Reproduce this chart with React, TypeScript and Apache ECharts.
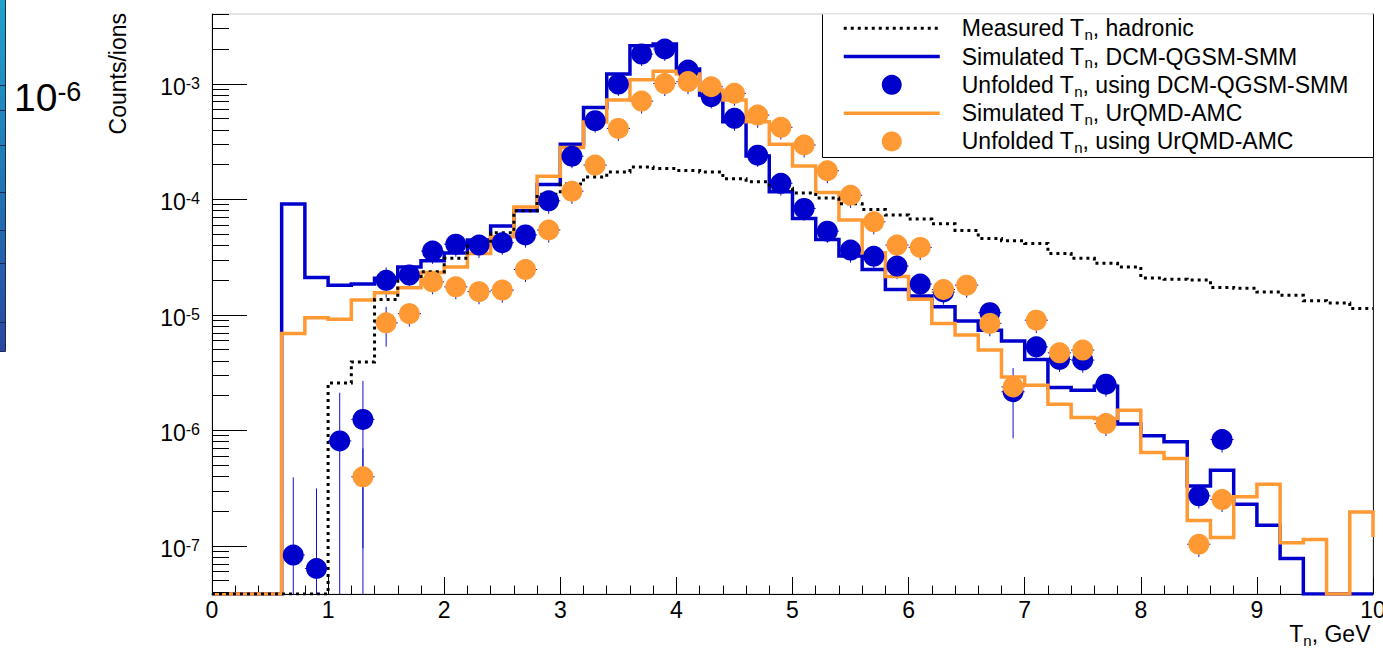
import React, { useEffect, useRef } from 'react';
import * as echarts from 'echarts';

const FONT = '"Liberation Sans", Arial, Helvetica, sans-serif';
const BLUE = '#0000cc';
const ORANGE = '#ff9933';
const BLACK = '#000000';
const ERR_COLOR = '#1010c8';

// axis range (log y)
const Y_MIN = 3.82e-8;
const Y_MAX = 4.0e-3;
const X_MIN = 0;
const X_MAX = 10;
const BIN_HALF = 0.1;

// left edges of the 0.2 GeV bins
const BIN_LEFT = [
  0, 0.2, 0.4, 0.6, 0.8, 1.0, 1.2, 1.4, 1.6, 1.8,
  2.0, 2.2, 2.4, 2.6, 2.8, 3.0, 3.2, 3.4, 3.6, 3.8,
  4.0, 4.2, 4.4, 4.6, 4.8, 5.0, 5.2, 5.4, 5.6, 5.8,
  6.0, 6.2, 6.4, 6.6, 6.8, 7.0, 7.2, 7.4, 7.6, 7.8,
  8.0, 8.2, 8.4, 8.6, 8.8, 9.0, 9.2, 9.4, 9.6, 9.8,
];

// Measured T_n, hadronic
const MEASURED = [
  0, 0, 0, 0, 0, 2.56e-6, 3.9e-6, 1.35e-5, 2.06e-5, 2.35e-5,
  3.07e-5, 4.13e-5, 5.11e-5, 7.94e-5, 1.10e-4, 1.35e-4, 1.55e-4, 1.72e-4, 1.90e-4, 1.84e-4,
  1.77e-4, 1.72e-4, 1.50e-4, 1.41e-4, 1.24e-4, 1.13e-4, 1.02e-4, 9.1e-5, 8.14e-5, 7.27e-5,
  6.71e-5, 6.11e-5, 5.36e-5, 4.57e-5, 4.36e-5, 4.13e-5, 3.39e-5, 3.07e-5, 2.78e-5, 2.59e-5,
  2.08e-5, 2.02e-5, 1.99e-5, 1.72e-5, 1.69e-5, 1.57e-5, 1.47e-5, 1.32e-5, 1.26e-5, 1.13e-5,
];

// Simulated T_n, DCM-QGSM-SMM
const SIM_DCM = [
  0, 0, 0, 9.05e-5, 2.10e-5, 1.80e-5, 1.84e-5, 2.06e-5, 2.58e-5, 2.92e-5,
  3.41e-5, 4.42e-5, 5.84e-5, 7.92e-5, 1.34e-4, 2.98e-4, 6.22e-4, 1.21e-3, 2.12e-3, 2.20e-3,
  1.34e-3, 7.95e-4, 4.67e-4, 2.36e-4, 1.16e-4, 6.81e-5, 4.48e-5, 3.21e-5, 2.46e-5, 1.65e-5,
  1.45e-5, 1.17e-5, 8.83e-6, 7.34e-6, 5.9e-6, 4.09e-6, 2.34e-6, 2.22e-6, 2.4e-6, 1.13e-6,
  8.93e-7, 7.93e-7, 3.29e-7, 4.51e-7, 2.29e-7, 1.50e-7, 7.74e-8, 0, 0, 0,
];

// Simulated T_n, UrQMD-AMC
const SIM_URQMD = [
  0, 0, 0, 6.87e-6, 9.38e-6, 9.14e-6, 1.34e-5, 1.55e-5, 1.71e-5, 2.32e-5,
  2.59e-5, 3.39e-5, 4.72e-5, 8.53e-5, 1.58e-4, 2.79e-4, 4.65e-4, 7.19e-4, 1.08e-3, 1.28e-3,
  1.21e-3, 8.78e-4, 7.19e-4, 4.67e-4, 2.99e-4, 1.93e-4, 1.14e-4, 6.58e-5, 3.44e-5, 2.14e-5,
  1.36e-5, 8.4e-6, 6.65e-6, 4.93e-6, 2.89e-6, 2.45e-6, 1.68e-6, 1.29e-6, 1.26e-6, 1.49e-6,
  6.41e-7, 5.69e-7, 1.65e-7, 1.18e-7, 2.65e-7, 3.40e-7, 1.06e-7, 1.13e-7, 0, 1.96e-7,
];
const SIM_URQMD_OVERFLOW = 1.19e-7;

// Unfolded T_n, using DCM-QGSM-SMM
const UNF_DCM_X = [
  0.7, 0.9, 1.1, 1.3, 1.5, 1.7, 1.9, 2.1, 2.3, 2.5, 2.7, 2.9, 3.1, 3.3, 3.5, 3.7, 3.9, 4.1, 4.3,
  4.5, 4.7, 4.9, 5.1, 5.3, 5.5, 5.7, 5.9, 6.1, 6.3, 6.7, 6.9, 7.1, 7.3, 7.5, 7.7, 8.5, 8.7,
];
const UNF_DCM_Y = [
  8.3e-8, 6.35e-8, 8.07e-7, 1.24e-6, 1.98e-5, 2.2e-5, 3.55e-5, 4.07e-5, 4.0e-5, 4.19e-5,
  4.9e-5, 9.66e-5, 2.35e-4, 4.77e-4, 9.9e-4, 1.8e-3, 1.99e-3, 1.31e-3, 7.7e-4,
  5.0e-4, 2.4e-4, 1.37e-4, 8.3e-5, 5.28e-5, 3.62e-5, 3.2e-5, 2.63e-5, 1.84e-5, 1.57e-5,
  1.04e-5, 2.15e-6, 5.26e-6, 4.09e-6, 4.04e-6, 2.5e-6, 2.7e-7, 8.3e-7,
];
const UNF_DCM_ERR = [
  3.07e-7, 2.5e-7, 1.3e-6, 1.43e-6, 5.8e-6, 5e-6, 8e-6, 9e-6, 9e-6, 9e-6,
  1.1e-5, 2.2e-5, 5e-5, 1.0e-4, 2.1e-4, 3.8e-4, 4.2e-4, 2.8e-4, 1.6e-4,
  1.1e-4, 5e-5, 3e-5, 1.8e-5, 1.1e-5, 8e-6, 7e-6, 6e-6, 4e-6, 3.5e-6,
  2.3e-6, 1.3e-6, 1.2e-6, 9e-7, 9e-7, 5.5e-7, 6e-8, 1.9e-7,
];

// Unfolded T_n, using UrQMD-AMC
const UNF_URQMD_X = [
  1.3, 1.5, 1.7, 1.9, 2.1, 2.3, 2.5, 2.7, 2.9, 3.1, 3.3, 3.5, 3.7, 3.9, 4.1, 4.3, 4.5, 4.7,
  4.9, 5.1, 5.3, 5.5, 5.7, 5.9, 6.1, 6.3, 6.5, 6.7, 6.9, 7.1, 7.3, 7.5, 7.7, 8.5, 8.7,
];
const UNF_URQMD_Y = [
  3.95e-7, 8.49e-6, 1.02e-5, 1.92e-5, 1.74e-5, 1.58e-5, 1.63e-5, 2.46e-5, 5.4e-5, 1.17e-4,
  1.97e-4, 4.09e-4, 7.05e-4, 1.0e-3, 1.04e-3, 9.38e-4, 8.23e-4, 5.34e-4,
  4.18e-4, 2.94e-4, 1.76e-4, 1.08e-4, 6.36e-5, 4.0e-5, 3.82e-5, 1.65e-5, 1.8e-5, 8.4e-6,
  2.37e-6, 8.95e-6, 4.67e-6, 4.93e-6, 1.14e-6, 1.03e-7, 2.51e-7,
];
const UNF_URQMD_ERR = [
  3e-7, 3.2e-6, 2.3e-6, 4.2e-6, 3.8e-6, 3.5e-6, 3.6e-6, 5.4e-6, 1.2e-5, 2.6e-5,
  4.3e-5, 9e-5, 1.55e-4, 2.2e-4, 2.3e-4, 2.1e-4, 1.8e-4, 1.2e-4,
  9e-5, 6.5e-5, 3.9e-5, 2.4e-5, 1.4e-5, 9e-6, 8.5e-6, 3.6e-6, 4e-6, 1.9e-6,
  6e-7, 2e-6, 1e-6, 1.1e-6, 2.5e-7, 2.3e-8, 5.5e-8,
];

// y-axis tick structure (log axis)
const Y_TICK_MANTISSA = [1, 2, 3, 4, 5, 6, 7, 8, 9];
const Y_TICK_DECADES = [-8, -7, -6, -5, -4, -3];

const NAMES = [
  'Measured T_n, hadronic',
  'Simulated T_n, DCM-QGSM-SMM',
  'Unfolded T_n, using DCM-QGSM-SMM',
  'Simulated T_n, UrQMD-AMC',
  'Unfolded T_n, using UrQMD-AMC',
];

const clampLow = (v: number) => (v > Y_MIN ? v : Y_MIN);

function stepData(vals: number[], endVal?: number) {
  const pts: number[][] = BIN_LEFT.map((x, i) => [x, clampLow(vals[i])]);
  const last = endVal !== undefined ? endVal : vals[vals.length - 1];
  pts.push([X_MAX, clampLow(last)]);
  return pts;
}

function pointData(xs: number[], ys: number[]) {
  return xs.map((x, i) => [x, ys[i]]);
}

function errData(xs: number[], ys: number[], es: number[]) {
  return xs.map((x, i) => [x, ys[i], clampLow(ys[i] - es[i]), ys[i] + es[i]]);
}

function yTickData() {
  const out: number[][] = [];
  Y_TICK_DECADES.forEach((d) => {
    Y_TICK_MANTISSA.forEach((m) => {
      const v = m * Math.pow(10, d);
      if (v >= Y_MIN && v <= Y_MAX) out.push([X_MIN, v, m === 1 ? 1 : 0]);
    });
  });
  return out;
}

function legendLabel(name: string) {
  const parts = name.split('T_n');
  return `{g| }{m|${parts[0]}T}{n|n}{m|${parts[1]}}`;
}

function buildOption(): any {
  const errRender = (params: any, api: any) => {
    const x = api.value(0);
    const y = api.value(1);
    const lo = api.value(2);
    const hi = api.value(3);
    const c = api.coord([x, y]);
    const t = api.coord([x, hi]);
    const b = api.coord([x, lo]);
    const l = api.coord([x - BIN_HALF, y]);
    const r = api.coord([x + BIN_HALF, y]);
    const style = { stroke: ERR_COLOR, lineWidth: 1 };
    return {
      type: 'group',
      children: [
        { type: 'line', shape: { x1: c[0], y1: t[1], x2: c[0], y2: b[1] }, style },
        { type: 'line', shape: { x1: l[0], y1: c[1], x2: r[0], y2: c[1] }, style },
      ],
    };
  };

  const tickRender = (params: any, api: any) => {
    const v = api.value(1);
    const major = api.value(2) === 1;
    const p = api.coord([X_MIN, v]);
    const len = major ? 35 : 17;
    const y = Math.round(p[1]) + 0.5;
    return {
      type: 'line',
      shape: { x1: p[0], y1: y, x2: p[0] + len, y2: y },
      style: { stroke: '#000', lineWidth: 1 },
    };
  };

  const subRich = {
    m: { fontSize: 23, lineHeight: 27.5, fontFamily: FONT, color: '#000' },
    n: { fontSize: 15, lineHeight: 10, verticalAlign: 'bottom', fontFamily: FONT, color: '#000' },
    g: { width: 17, fontSize: 23, lineHeight: 27.5 },
  };

  const noSymbol = { opacity: 0, borderWidth: 0 };

  return {
    animation: false,
    textStyle: { fontFamily: FONT },
    grid: {
      left: 212,
      right: 10,
      top: 14,
      bottom: 55,
      show: true,
      borderColor: '#c8c8c8',
      borderWidth: 1,
      outerBoundsMode: 'none',
      containLabel: false,
    },
    xAxis: {
      type: 'value',
      min: X_MIN,
      max: X_MAX,
      interval: 1,
      axisLine: { show: true, onZero: false, lineStyle: { color: '#000', width: 1 } },
      axisTick: { show: true, inside: true, length: 17, lineStyle: { color: '#000', width: 1 } },
      minorTick: { show: true, splitNumber: 5, length: 8.5, lineStyle: { color: '#000', width: 1 } },
      splitLine: { show: false },
      minorSplitLine: { show: false },
      axisLabel: {
        fontSize: 23,
        lineHeight: 23,
        color: '#000',
        fontFamily: FONT,
        margin: 4.5,
        hideOverlap: false,
      },
    },
    yAxis: [
      {
        type: 'log',
        logBase: 10,
        min: Y_MIN,
        max: Y_MAX,
        axisLine: { show: true, onZero: false, lineStyle: { color: '#000', width: 1 } },
        axisTick: { show: false },
        minorTick: { show: false },
        splitLine: { show: false },
        minorSplitLine: { show: false },
        axisLabel: {
          margin: 12,
          color: '#000',
          padding: [6, 0, 0, 0],
          showMinLabel: false,
          showMaxLabel: false,
          hideOverlap: false,
          formatter: (value: number) => {
            const l = Math.log10(value);
            const e = Math.round(l);
            if (Math.abs(l - e) > 1e-6) return '';
            return `{b|10}{s|${e}}`;
          },
          rich: {
            b: { fontSize: 23, lineHeight: 23, fontFamily: FONT, color: '#000' },
            s: { fontSize: 16, lineHeight: 11.8, verticalAlign: 'top', fontFamily: FONT, color: '#000' },
          },
        },
      },
      {
        type: 'value',
        position: 'right',
        axisLine: { show: true, onZero: false, lineStyle: { color: '#222', width: 1 } },
        axisTick: { show: false },
        axisLabel: { show: false },
        splitLine: { show: false },
      },
    ],
    legend: {
      orient: 'vertical',
      left: 842,
      top: 14.5,
      padding: 0,
      itemWidth: 96,
      itemHeight: 20,
      itemGap: 0.8,
      selectedMode: false,
      z: 20,
      formatter: (name: string) => legendLabel(name),
      textStyle: { fontFamily: FONT, fontSize: 23, lineHeight: 27.5, color: '#000', rich: subRich },
      data: [
        { name: NAMES[0], itemStyle: noSymbol, lineStyle: { color: BLACK, width: 3, type: [3, 4] } },
        { name: NAMES[1], itemStyle: noSymbol, lineStyle: { color: BLUE, width: 3.5 } },
        { name: NAMES[2] },
        { name: NAMES[3], itemStyle: noSymbol, lineStyle: { color: ORANGE, width: 3.5 } },
        { name: NAMES[4] },
      ],
    },
    graphic: [
      // legend box (white, with left/bottom/right border)
      {
        type: 'rect',
        z: 10,
        silent: true,
        shape: { x: 822.5, y: 14.5, width: 551, height: 143 },
        style: { fill: '#fff' },
      },
      {
        type: 'polyline',
        z: 11,
        silent: true,
        shape: { points: [[822.5, 14.5], [822.5, 157.5], [1373.5, 157.5], [1373.5, 14.5]] },
        style: { stroke: '#000', lineWidth: 1, fill: null },
      },
      // partial colour palette at the left edge
      {
        type: 'rect',
        silent: true,
        shape: { x: 0, y: 0, width: 5, height: 351 },
        style: {
          fill: new echarts.graphic.LinearGradient(0, 0, 0, 1, [
            { offset: 0, color: '#22a3c9' },
            { offset: 0.5, color: '#1f78b6' },
            { offset: 1, color: '#2b47a0' },
          ]),
        },
      },
      {
        type: 'polyline',
        silent: true,
        shape: { points: [[5.5, 0], [5.5, 351.5], [0, 351.5]] },
        style: { stroke: '#1a2a55', lineWidth: 1, fill: null },
      },
      ...[85, 110, 145, 192, 230, 263, 322].map((yy) => ({
        type: 'line',
        silent: true,
        shape: { x1: 0, y1: yy + 0.5, x2: 5, y2: yy + 0.5 },
        style: { stroke: '#1a2a55', lineWidth: 1 },
      })),
      {
        type: 'text',
        silent: true,
        x: 14,
        y: 78,
        style: {
          text: '{b|10}{s|-6}',
          align: 'left',
          verticalAlign: 'top',
          fill: '#000',
          rich: {
            b: { fontSize: 39, lineHeight: 39, fontFamily: FONT, color: '#000' },
            s: { fontSize: 27, lineHeight: 8, verticalAlign: 'top', fontFamily: FONT, color: '#000' },
          },
        },
      },
      // y axis title
      {
        type: 'text',
        silent: true,
        x: 118,
        y: 13,
        rotation: Math.PI / 2,
        style: {
          text: 'Counts/ions',
          fontSize: 23,
          fontFamily: FONT,
          fill: '#000',
          align: 'right',
          verticalAlign: 'middle',
        },
      },
      // x axis title
      {
        type: 'text',
        silent: true,
        x: 1370.5,
        y: 634,
        style: {
          text: '{m|T}{n|n}{m|, GeV}',
          align: 'right',
          verticalAlign: 'middle',
          fill: '#000',
          rich: {
            m: { fontSize: 23, lineHeight: 27.5, fontFamily: FONT, color: '#000' },
            n: { fontSize: 15, lineHeight: 10, verticalAlign: 'bottom', fontFamily: FONT, color: '#000' },
          },
        },
      },
    ],
    series: [
      {
        name: 'y ticks',
        type: 'custom',
        silent: true,
        renderItem: tickRender,
        data: yTickData(),
        z: 5,
      },
      {
        name: NAMES[1],
        type: 'line',
        step: 'end',
        data: stepData(SIM_DCM),
        symbol: 'none',
        showSymbol: false,
        silent: true,
        lineStyle: { color: BLUE, width: 3.5, join: 'miter', cap: 'butt' },
        itemStyle: { color: BLUE },
        z: 2,
      },
      {
        name: NAMES[3],
        type: 'line',
        step: 'end',
        data: stepData(SIM_URQMD, SIM_URQMD_OVERFLOW),
        symbol: 'none',
        showSymbol: false,
        silent: true,
        lineStyle: { color: ORANGE, width: 3.5, join: 'miter', cap: 'butt' },
        itemStyle: { color: ORANGE },
        z: 2,
      },
      {
        name: NAMES[0],
        type: 'line',
        step: 'end',
        data: stepData(MEASURED),
        symbol: 'none',
        showSymbol: false,
        silent: true,
        lineStyle: { color: BLACK, width: 3, type: [3, 4], join: 'miter', cap: 'butt' },
        itemStyle: { color: BLACK },
        z: 2,
      },
      {
        name: 'err dcm',
        type: 'custom',
        silent: true,
        clip: true,
        renderItem: errRender,
        data: errData(UNF_DCM_X, UNF_DCM_Y, UNF_DCM_ERR),
        z: 2,
      },
      {
        name: 'err urqmd',
        type: 'custom',
        silent: true,
        clip: true,
        renderItem: errRender,
        data: errData(UNF_URQMD_X, UNF_URQMD_Y, UNF_URQMD_ERR),
        z: 2,
      },
      {
        name: NAMES[2],
        type: 'scatter',
        symbol: 'circle',
        symbolSize: 21,
        silent: true,
        data: pointData(UNF_DCM_X, UNF_DCM_Y),
        itemStyle: { color: BLUE, opacity: 1 },
        z: 3,
      },
      {
        name: NAMES[4],
        type: 'scatter',
        symbol: 'circle',
        symbolSize: 21,
        silent: true,
        data: pointData(UNF_URQMD_X, UNF_URQMD_Y),
        itemStyle: { color: ORANGE, opacity: 1 },
        z: 3,
      },
    ],
  };
}

export default function App() {
  const ref = useRef<HTMLDivElement>(null);
  useEffect(() => {
    document.body.style.margin = '0';
    const el = ref.current;
    if (!el) return;
    const chart = echarts.init(el, null, { renderer: 'svg' });
    chart.setOption(buildOption());
    return () => {
      chart.dispose();
    };
  }, []);
  return <div ref={ref} style={{ width: 1383, height: 649, background: '#fff', overflow: 'hidden' }} />;
}
